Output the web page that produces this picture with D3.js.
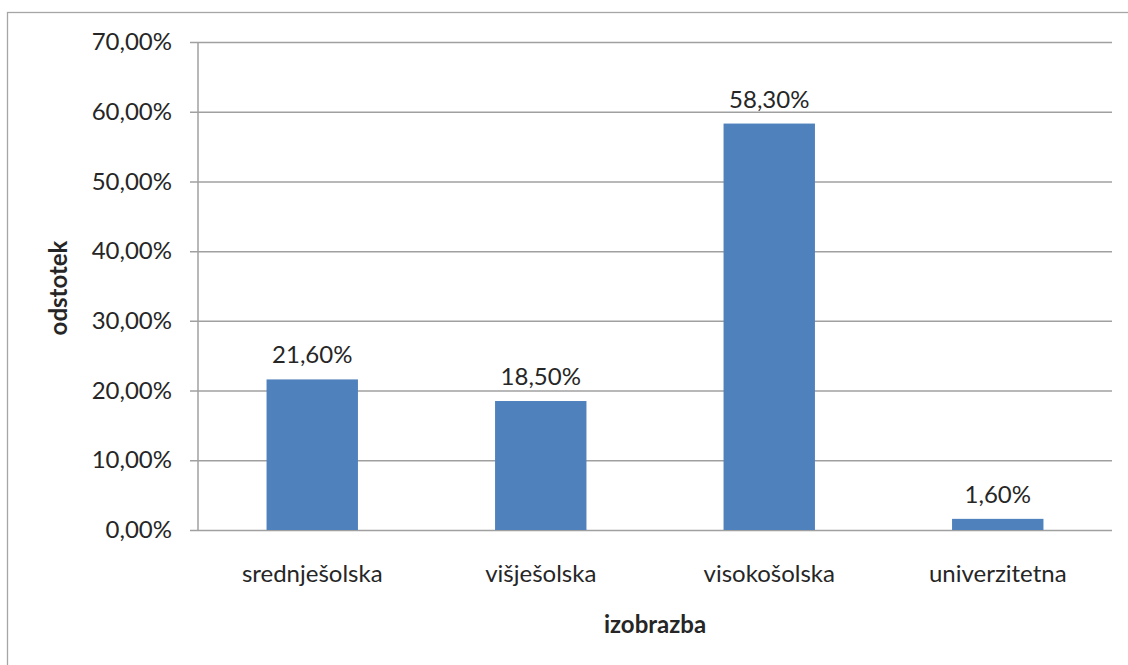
<!DOCTYPE html>
<html>
<head>
<meta charset="utf-8">
<script src="https://cdn.jsdelivr.net/npm/d3@7"></script>
<style>
  html, body { margin: 0; padding: 0; background: #fff; }
  svg { display: block; }
  text { font-family: Lato, "Open Sans", sans-serif; fill: #262626; }
</style>
</head>
<body>
<div id="chart"></div>
<script>
// Education level shares (percent)
const categories = ["srednješolska", "višješolska", "visokošolska", "univerzitetna"];
const values = [21.6, 18.5, 58.3, 1.6];
const valueLabels = ["21,60%", "18,50%", "58,30%", "1,60%"];
const yTicks = [0, 10, 20, 30, 40, 50, 60, 70];
const xTitle = "izobrazba";
const yTitle = "odstotek";

const W = 1128, H = 665;
const plot = { left: 198, right: 1112, top: 42, bottom: 530 };
const FS = 24;

const svg = d3.select("#chart").append("svg")
  .attr("width", W).attr("height", H);

// chart frame
svg.append("rect")
  .attr("x", 7.5).attr("y", 12.5)
  .attr("width", W).attr("height", H)
  .attr("fill", "none").attr("stroke", "#a6a6a6").attr("stroke-width", 1.3);

const x = d3.scaleBand().domain(categories)
  .range([plot.left, plot.right]).paddingInner(0.6).paddingOuter(0.3);
const y = d3.scaleLinear().domain([0, 70]).range([plot.bottom, plot.top]);

const fmt = v => d3.format(".2f")(v).replace(".", ",") + "%";

// horizontal gridlines with tick labels
const yAxis = d3.axisLeft(y).tickValues(yTicks).tickFormat(fmt)
  .tickSize(-(plot.right - plot.left)).tickPadding(26);
const gy = svg.append("g").attr("transform", `translate(${plot.left},0)`).call(yAxis);
gy.select(".domain").remove();
gy.selectAll(".tick line")
  .attr("x1", -8)
  .attr("stroke", "#a0a0a0").attr("stroke-width", 1.5);
gy.selectAll(".tick text")
  .attr("x", -26)
  .attr("font-size", FS).attr("fill", "#262626")
  .style("font-family", "Lato, 'Open Sans', sans-serif");

// vertical axis line
svg.append("line")
  .attr("x1", plot.left).attr("x2", plot.left)
  .attr("y1", plot.top).attr("y2", plot.bottom)
  .attr("stroke", "#a0a0a0").attr("stroke-width", 1.5);

// bars
const data = categories.map((c, i) => ({ c, v: values[i], label: valueLabels[i] }));
svg.append("g").selectAll("rect").data(data).join("rect")
  .attr("x", d => x(d.c))
  .attr("width", x.bandwidth())
  .attr("y", d => y(d.v))
  .attr("height", d => y(0) - y(d.v))
  .attr("fill", "#4f81bd");

// value labels
svg.append("g").selectAll("text").data(data).join("text")
  .attr("x", d => x(d.c) + x.bandwidth() / 2)
  .attr("y", d => y(d.v) - 16)
  .attr("text-anchor", "middle")
  .attr("font-size", FS)
  .text(d => d.label);

// category labels
svg.append("g").selectAll("text").data(categories).join("text")
  .attr("x", d => x(d) + x.bandwidth() / 2)
  .attr("y", 582)
  .attr("text-anchor", "middle")
  .attr("font-size", FS)
  .text(d => d);

// axis titles
svg.append("text")
  .attr("x", (plot.left + plot.right) / 2).attr("y", 633)
  .attr("text-anchor", "middle")
  .attr("font-size", FS).attr("font-weight", "bold")
  .text(xTitle);

svg.append("text")
  .attr("transform", `translate(67,${(plot.top + plot.bottom) / 2 + 2}) rotate(-90)`)
  .attr("text-anchor", "middle")
  .attr("font-size", FS).attr("font-weight", "bold")
  .text(yTitle);
</script>
</body>
</html>
